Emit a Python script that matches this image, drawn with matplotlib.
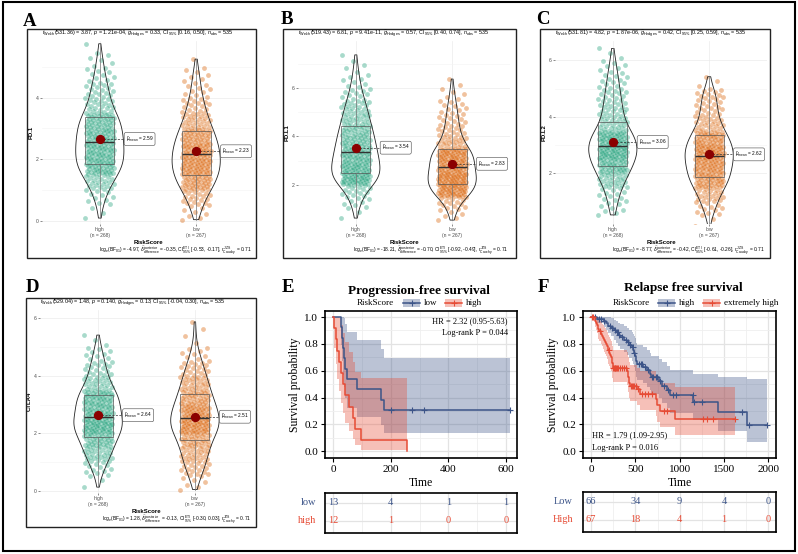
import numpy as np
import matplotlib.pyplot as plt
from matplotlib.patches import Rectangle

plt.rcParams['font.family'] = ['Liberation Sans', 'DejaVu Sans']
plt.rcParams['mathtext.fontset'] = 'custom'
plt.rcParams['mathtext.rm'] = 'Liberation Sans'
plt.rcParams['mathtext.it'] = 'Liberation Sans:italic'
plt.rcParams['mathtext.bf'] = 'Liberation Sans:bold'

# ---------------- violin panels (A-D) ----------------
groups = ['high', 'low']
group_n = [268, 267]
genes = ['PD.1', 'PD.L1', 'PD.L2', 'CTLA4']
bin_width = 0.5  # point counts per 0.5-wide bin, starting at 0

pd1_high = [3, 10, 24, 45, 46, 44, 40, 22, 17, 10, 6, 1]
pd1_low = [8, 20, 40, 50, 48, 40, 26, 17, 10, 7, 1]
pdl1_high = [0, 2, 8, 15, 43, 40, 36, 32, 28, 22, 18, 11, 7, 4, 2]
pdl1_low = [0, 6, 14, 45, 50, 42, 45, 22, 15, 12, 9, 5, 2]
pdl2_high = [0, 8, 12, 25, 40, 52, 48, 24, 20, 16, 12, 8, 3]
pdl2_low = [2, 12, 22, 40, 45, 50, 40, 22, 16, 15, 3]
ctla4_high = [2, 12, 26, 36, 52, 44, 43, 24, 16, 10, 3]
ctla4_low = [6, 18, 25, 32, 50, 45, 34, 26, 18, 9, 2, 2]

mean_high = [2.59, 3.54, 3.06, 2.64]
mean_low = [2.23, 2.83, 2.62, 2.51]

welch_df = [531.36, 519.43, 531.81, 529.04]
t_values = [3.87, 6.81, 4.82, 1.48]
p_values = ['1.21e-04', '9.41e-11', '1.87e-06', '0.140']
g_hedges = [0.33, 0.57, 0.42, 0.13]
g_ci_low = [0.16, 0.40, 0.25, -0.04]
g_ci_high = [0.50, 0.74, 0.59, 0.30]
log_bf = [-4.97, -18.21, -8.77, 1.28]
delta_post = [-0.35, -0.70, -0.42, -0.13]
delta_ci_low = [-0.53, -0.92, -0.61, -0.30]
delta_ci_high = [-0.17, -0.49, -0.26, 0.03]
r_cauchy = 0.71
n_obs = 535

# ---------------- survival panels (E-F) ----------------
pfs_low_events = [25, 30, 35, 38, 42, 47, 82, 166, 175]
pfs_low_censored = [201, 273, 316, 613]
pfs_high_events = [2, 8, 14, 20, 28, 35, 40, 55, 68, 75, 95, 256]
pfs_high_censored = []
pfs_times = [0, 200, 400, 600]
pfs_risk_low = [13, 4, 1, 1]
pfs_risk_high = [12, 1, 0, 0]

rfs_low_events = [68, 142, 170, 195, 230, 255, 280, 310, 330, 370, 405, 430,
                  460, 475, 485, 495, 505, 512, 520, 590, 630, 665, 676, 770,
                  800, 860, 893, 1155, 1437, 1757]
rfs_low_censored = [40, 90, 110, 150, 210, 240, 265, 290, 300, 320, 350, 390,
                    420, 445, 470, 490, 540, 560, 580, 610, 640, 690, 700, 730,
                    740, 780, 820, 870, 920, 960, 1150, 1165, 1250, 1700, 1780,
                    1989]
rfs_high_events = [40, 45, 60, 68, 75, 82, 95, 110, 120, 135, 150, 158, 170,
                   180, 190, 196, 205, 215, 225, 233, 238, 242, 246, 250, 405,
                   412, 420, 428, 434, 440, 516, 553, 730, 745, 775, 949]
rfs_high_censored = [10, 20, 100, 200, 252, 260, 265, 275, 285, 295, 310, 330,
                     350, 370, 390, 455, 465, 478, 490, 505, 535, 580, 610, 640,
                     690, 818, 855, 1265, 1306, 1374, 1627]
rfs_times = [0, 500, 1000, 1500, 2000]
rfs_risk_low = [66, 34, 9, 4, 0]
rfs_risk_high = [67, 18, 4, 1, 0]

hr_text = ['HR = 2.32 (0.95-5.63)', 'HR = 1.79 (1.09-2.95)']
logrank_text = ['Log-rank P = 0.044', 'Log-rank P = 0.016']

W, H = 798, 554
fig = plt.figure(figsize=(W / 100, H / 100), dpi=100)


def px_axes(x0, y0, x1, y1):
    return fig.add_axes([x0 / W, 1 - y1 / H, (x1 - x0) / W, (y1 - y0) / H])


ov = fig.add_axes([0, 0, 1, 1], zorder=20)
ov.set_xlim(0, W)
ov.set_ylim(H, 0)
ov.axis('off')
ov.add_patch(Rectangle((3, 2), 792, 549, fill=False, lw=1.5, ec='black', clip_on=False))

serif = 'Liberation Serif'
teal, orange, darkred = '#1B9E77', '#D95F02', '#8B0000'


def expand(counts):
    vals = []
    for i, c in enumerate(counts):
        vals += [i * bin_width + bin_width * (k + 0.5) / c for k in range(c)]
    return np.array(vals)


def jitter(n, width=0.3):
    return ((np.arange(n) * 0.6180339887) % 1 - 0.5) * width


violin_layout = [
    # letter, letter xy, frame px, axes px, ylim, yticks
    ('A', (30, 21), (27, 29, 256, 258), (42, 41, 254, 224), (-0.11, 5.84), [0, 2, 4]),
    ('B', (287, 20), (283, 29, 516, 258), (298, 41, 510, 224), (0.38, 7.95), [2, 4, 6]),
    ('C', (543, 20), (540, 29, 770, 258), (555, 41, 767, 224), (0.21, 6.68), [2, 4, 6]),
    ('D', (32, 287), (26, 298, 256, 527), (40, 310, 253, 493), (-0.08, 6.29), [0, 2, 4, 6]),
]
violin_counts = [(pd1_high, pd1_low), (pdl1_high, pdl1_low),
                 (pdl2_high, pdl2_low), (ctla4_high, ctla4_low)]

for k, (letter, lxy, frame, axr, ylim, yticks) in enumerate(violin_layout):
    ax = px_axes(*axr)
    data = [expand(c) for c in violin_counts[k]]
    for j, (vals, col) in enumerate(zip(data, [teal, orange])):
        ax.scatter(j + 1 + jitter(len(vals)), vals, s=12, color=col, alpha=0.38,
                   lw=0, zorder=1)
    vp = ax.violinplot(data, positions=[1, 2], widths=0.5, showextrema=False,
                       bw_method=0.3)
    for b in vp['bodies']:
        b.set_facecolor('none')
        b.set_edgecolor('#222222')
        b.set_linewidth(0.6)
        b.set_alpha(1)
        b.set_zorder(2)
    ax.boxplot(data, positions=[1, 2], widths=0.3, whis=(0, 100), showfliers=False,
               showcaps=False, patch_artist=True, manage_ticks=False,
               boxprops=dict(facecolor='none', edgecolor='#555555', lw=0.5),
               medianprops=dict(color='#333333', lw=1.0),
               whiskerprops=dict(color='#777777', lw=0.5), zorder=2)
    for j, (vals, m) in enumerate(zip(data, [mean_high[k], mean_low[k]])):
        mu = vals.mean()
        ax.plot([j + 1, j + 1.26], [mu, mu], ls=(0, (3, 2)), color='#333333',
                lw=0.5, zorder=3)
        ax.scatter(j + 1, mu, s=32, color=darkred, zorder=4)
        ax.text(j + 1.27, mu, r'$\hat{\mu}_{\mathrm{mean}}$' + f' = {m:.2f}',
                fontsize=3.4, ha='left', va='center', zorder=5,
                bbox=dict(boxstyle='round,pad=0.35', fc='white', ec='#444444', lw=0.4))
    ax.set_xlim(0.4, 2.6)
    ax.set_ylim(*ylim)
    ax.set_xticks([1, 2])
    ax.set_xticklabels([f'{g}\n(n = {n})' for g, n in zip(groups, group_n)])
    ax.set_yticks(yticks)
    ax.set_yticks([v + 1 for v in yticks if v + 1 < ylim[1]], minor=True)
    ax.grid(which='major', color='#EBEBEB', lw=0.5)
    ax.grid(which='minor', axis='y', color='#F3F3F3', lw=0.4)
    ax.set_axisbelow(True)
    for s in ax.spines.values():
        s.set_visible(False)
    ax.tick_params(which='major', length=1.5, width=0.4, color='#333333',
                   labelsize=3.6, labelcolor='#4D4D4D', pad=1)
    ax.tick_params(which='minor', length=0)
    ax.set_xlabel('RiskScore', fontsize=4.3, fontweight='bold', labelpad=1.5)
    ax.set_ylabel(genes[k], fontsize=4.3, fontweight='bold', labelpad=1.5)

    x0, y0, x1, y1 = frame
    ov.add_patch(Rectangle((x0, y0), x1 - x0, y1 - y0, fill=False, lw=1.0, ec='#222222'))
    ov.text(*lxy, letter, fontsize=13.5, fontweight='bold', family=serif,
            ha='center', va='center')
    subtitle = (r'$t_{\mathrm{Welch}}$' + f'({welch_df[k]:.2f}) = {t_values[k]:.2f}, '
                + r'$p$' + f' = {p_values[k]}, '
                + r'$\widehat{g}_{\mathrm{Hedges}}$' + f' = {g_hedges[k]:.2f}, '
                + r'CI$_{95\%}$' + f' [{g_ci_low[k]:.2f}, {g_ci_high[k]:.2f}], '
                + r'$n_{\mathrm{obs}}$' + f' = {n_obs}')
    caption = (r'log$_{e}$(BF$_{01}$)' + f' = {log_bf[k]:.2f}, '
               + r'$\widehat{\delta}_{\mathrm{difference}}^{\mathrm{posterior}}$'
               + f' = {delta_post[k]:.2f}, '
               + r'CI$_{95\%}^{\mathrm{ETI}}$'
               + f' [{delta_ci_low[k]:.2f}, {delta_ci_high[k]:.2f}], '
               + r'$r_{\mathrm{Cauchy}}^{\mathrm{JZS}}$' + f' = {r_cauchy:.2f}')
    ov.text(axr[0], y0 + 5, subtitle, fontsize=3.85, ha='left', va='center')
    ov.text(axr[2] - 2, y1 - 7, caption, fontsize=3.5, ha='right', va='center')


# ---------------- Kaplan-Meier ----------------
def km(events, censored):
    times = np.array(events + censored, dtype=float)
    dead = np.array([1] * len(events) + [0] * len(censored))
    xs, surv, up, lo = [0.0], [1.0], [1.0], [1.0]
    s, v = 1.0, 0.0
    for t in np.unique(np.array(events, dtype=float)):
        n = np.sum(times >= t)
        d = np.sum((times == t) & (dead == 1))
        s *= 1 - d / n
        xs.append(t)
        surv.append(s)
        if n > d:
            v += d / (n * (n - d))
            se = np.sqrt(v)
            up.append(min(1.0, s * np.exp(1.96 * se)))
            lo.append(s * np.exp(-1.96 * se))
        else:
            up.append(np.nan)
            lo.append(np.nan)
    return np.array(xs), np.array(surv), np.array(up), np.array(lo), times.max()


blue, red = '#3C5488', '#E64B35'
km_layout = [
    dict(letter='E', lxy=(288, 288), title='Progression-free survival', txy=(419, 291),
         ax=(325, 311, 517, 458), table=(325, 493, 517, 533), xlim=(-29, 639),
         ticks=pfs_times, minor=[100, 300, 500],
         arms=[(pfs_low_events, pfs_low_censored, blue), (pfs_high_events, pfs_high_censored, red)],
         risk=[pfs_risk_low, pfs_risk_high], risk_names=['low', 'high'], risk_x=316,
         legend=[(356.7, 'RiskScore'), (403, 'low'), (445, 'high')],
         hr_xy=(508, 320.7), hr_ha='right'),
    dict(letter='F', lxy=(543, 288), title='Relapse free survival', txy=(683, 288),
         ax=(583, 311, 776, 458), table=(583, 492, 776, 532), xlim=(-90, 2085),
         ticks=rfs_times, minor=[250, 750, 1250, 1750],
         arms=[(rfs_low_events, rfs_low_censored, blue), (rfs_high_events, rfs_high_censored, red)],
         risk=[rfs_risk_low, rfs_risk_high], risk_names=['Low', 'High'], risk_x=573,
         legend=[(612.7, 'RiskScore'), (658, 'high'), (703, 'extremely high')],
         hr_xy=(591.7, 435), hr_ha='left'),
]

for k, L in enumerate(km_layout):
    ax = px_axes(*L['ax'])
    curves = [km(e, c) for e, c, _ in L['arms']]
    for (xs, surv, up, lo, tmax), (_, _, col) in zip(curves, L['arms']):
        ok = ~np.isnan(up)
        bx = np.append(xs[ok], xs[~ok][0] if (~ok).any() else tmax)
        ax.fill_between(bx, np.append(lo[ok], lo[ok][-1]), np.append(up[ok], up[ok][-1]),
                        step='post', color=col, alpha=0.35, lw=0)
    for (xs, surv, up, lo, tmax), (_, cens, col) in zip(curves, L['arms']):
        ax.step(np.append(xs, tmax), np.append(surv, surv[-1]), where='post',
                color=col, lw=1.1)
        if cens:
            idx = np.searchsorted(xs, cens, side='right') - 1
            ax.plot(cens, surv[idx], ls='none', marker='+', ms=5, mew=0.8, color=col)
    ax.set_xlim(*L['xlim'])
    ax.set_ylim(-0.05, 1.045)
    ax.set_xticks(L['ticks'])
    ax.set_xticks(L['minor'], minor=True)
    ax.set_yticks(np.linspace(0, 1, 6))
    ax.set_yticklabels([f'{v:.1f}' for v in np.linspace(0, 1, 6)])
    ax.set_yticks(np.linspace(0.1, 0.9, 5), minor=True)
    ax.grid(which='major', color='#E3E3E3', lw=0.9)
    ax.grid(which='minor', color='#EFEFEF', lw=0.6)
    ax.set_axisbelow(True)
    for s in ax.spines.values():
        s.set_linewidth(1.2)
    ax.tick_params(which='major', length=3, width=0.8, labelsize=8, pad=2)
    ax.tick_params(which='minor', length=0)
    for lab in ax.get_xticklabels() + ax.get_yticklabels():
        lab.set_family(serif)
    ax.set_xlabel('Time', fontsize=8.5, family=serif, labelpad=2)
    ax.set_ylabel('Survival probability', fontsize=8.5, family=serif, labelpad=2)

    # risk table
    tb = px_axes(*L['table'])
    tb.set_xlim(*L['xlim'])
    tb.set_ylim(0.3, 2.56)
    tb.set_xticks(L['ticks'])
    tb.set_xticks(L['minor'], minor=True)
    tb.set_yticks([1, 2])
    tb.grid(which='major', color='#E3E3E3', lw=0.9)
    tb.grid(which='minor', axis='x', color='#EFEFEF', lw=0.6)
    tb.set_axisbelow(True)
    tb.tick_params(which='both', length=0, labelbottom=False, labelleft=False)
    for s in tb.spines.values():
        s.set_linewidth(1.2)
    for row, (counts, (_, _, col), name) in enumerate(zip(L['risk'], L['arms'], L['risk_names'])):
        y = 2 - row
        for t, c in zip(L['ticks'], counts):
            tb.text(t, y, str(c), color=col, ha='center', va='center',
                    fontsize=7.5, family=serif)
        ty0, ty1 = L['table'][1], L['table'][3]
        ypx = ty1 - (y - 0.3) / (2.56 - 0.3) * (ty1 - ty0)
        ov.text(L['risk_x'], ypx, name, color=col, ha='right', va='center',
                fontsize=7.5, family=serif)

    ov.text(*L['lxy'], L['letter'], fontsize=13.5, fontweight='bold', family=serif,
            ha='center', va='center')
    ov.text(*L['txy'], L['title'], fontsize=9.5, fontweight='bold', family=serif,
            ha='center', va='center')
    ly = 303.3
    ov.text(L['legend'][0][0], ly, L['legend'][0][1], fontsize=6.5, family=serif,
            ha='left', va='center')
    for (kx, name), (_, _, col) in zip(L['legend'][1:], L['arms']):
        ov.add_patch(Rectangle((kx, ly - 4), 17, 8, color=col, alpha=0.35, lw=0))
        ov.plot([kx, kx + 17], [ly, ly], color=col, lw=1.1)
        ov.plot(kx + 8.5, ly, marker='+', ms=5, mew=0.8, color=col)
        ov.text(kx + 21, ly, name, fontsize=6.5, family=serif, ha='left', va='center')
    hx, hy = L['hr_xy']
    ov.text(hx, hy, hr_text[k], fontsize=6, family=serif, ha=L['hr_ha'], va='center')
    ov.text(hx, hy + 12.5, logrank_text[k], fontsize=6, family=serif, ha=L['hr_ha'],
            va='center')

fig.savefig('out.png', dpi=100)
